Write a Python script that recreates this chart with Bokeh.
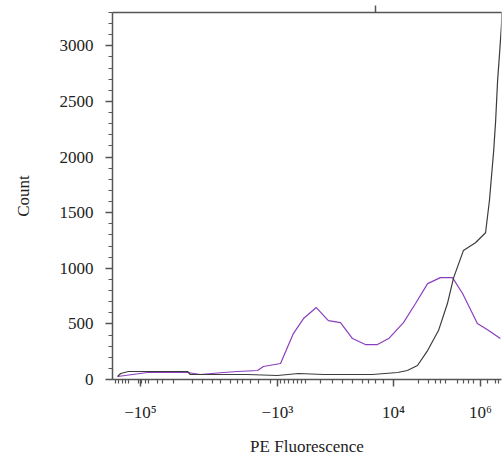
from bokeh.plotting import figure
from bokeh.models import FixedTicker, SingleIntervalTicker, LinearAxis, Range1d
from bokeh.embed import file_html
from bokeh.resources import INLINE

# display-channel positions (biexponential axis, 0..1000 across the plot)
purple_x = [13, 90, 162, 193, 226, 285, 321, 373, 388, 432, 465, 491, 524, 555, 586, 617, 650, 681, 710, 748, 779, 810, 843, 874, 900, 938, 967, 997]
purple_y = [27, 63, 63, 63, 45, 63, 72, 81, 117, 144, 413, 548, 647, 530, 512, 368, 314, 314, 368, 512, 683, 862, 916, 916, 773, 503, 440, 368]

black_x = [13, 21, 41, 193, 200, 347, 424, 478, 543, 668, 733, 758, 784, 810, 838, 861, 877, 902, 933, 959, 969, 980, 985, 990, 995, 1000, 1001]
black_y = [27, 54, 72, 72, 45, 45, 36, 54, 45, 45, 63, 81, 126, 260, 440, 683, 916, 1159, 1230, 1320, 1610, 2060, 2330, 2690, 2930, 3190, 3400]

x_major = [72, 424, 722, 946]
x_labels = ["\u221210\u2075", "\u221210\u00b3", "10\u2074", "10\u2076"]
x_minor = [8, 15, 26, 33, 41, 67, 75, 85, 93, 116, 129, 157, 206, 231, 257, 278, 303, 321, 334, 355, 375, 406, 432, 442, 452, 465, 476, 486, 496, 535, 566, 591, 617, 643, 658, 676, 697, 787, 812, 830, 843, 856, 887, 902, 915, 928, 964, 985, 992]
top_tick = [676]

FONT = "Liberation Serif"
AX = "#555555"

p = figure(width=502, height=458, output_backend="svg", toolbar_location=None,
           x_range=Range1d(0, 1000), y_range=Range1d(0, 3300),
           min_border_left=112, min_border_right=1, min_border_top=12, min_border_bottom=10,
           x_axis_label="PE Fluorescence", y_axis_label="Count")
p.grid.visible = False
p.outline_line_color = None
p.background_fill_color = "white"
p.border_fill_color = "white"

p.line(purple_x, purple_y, line_color="#8a3fbf", line_width=1.2)
p.line(black_x, black_y, line_color="#3c3c3c", line_width=1.2)

xa = p.xaxis[0]
xa.ticker = FixedTicker(ticks=x_major, minor_ticks=x_minor)
xa.major_label_overrides = {t: l for t, l in zip(x_major, x_labels)}
ya = p.yaxis[0]
ya.ticker = SingleIntervalTicker(interval=500, num_minor_ticks=5)

for ax in (xa, ya):
    ax.axis_line_color = AX
    ax.axis_line_width = 1.5
    ax.major_tick_line_color = AX
    ax.minor_tick_line_color = AX
    ax.major_tick_line_width = 1.5
    ax.minor_tick_line_width = 1.2
    ax.major_tick_in = 0
    ax.minor_tick_in = 0
    ax.major_tick_out = 7
    ax.minor_tick_out = 4
    ax.major_label_text_font = FONT
    ax.major_label_text_font_size = "17px"
    ax.major_label_text_color = "#222222"
    ax.axis_label_text_font = FONT
    ax.axis_label_text_font_size = "17px"
    ax.axis_label_text_font_style = "normal"
    ax.axis_label_text_color = "#222222"

ya.major_label_standoff = 12
ya.axis_label_standoff = 24
xa.major_label_standoff = 16
xa.axis_label_standoff = 12

top = LinearAxis(ticker=FixedTicker(ticks=[], minor_ticks=top_tick))
top.axis_line_color = AX
top.axis_line_width = 1.5
top.minor_tick_line_color = AX
top.minor_tick_line_width = 1.5
top.minor_tick_in = 0
top.minor_tick_out = 7
top.major_label_standoff = 0
p.add_layout(top, "above")

open("out.html", "w").write(file_html(p, INLINE))
